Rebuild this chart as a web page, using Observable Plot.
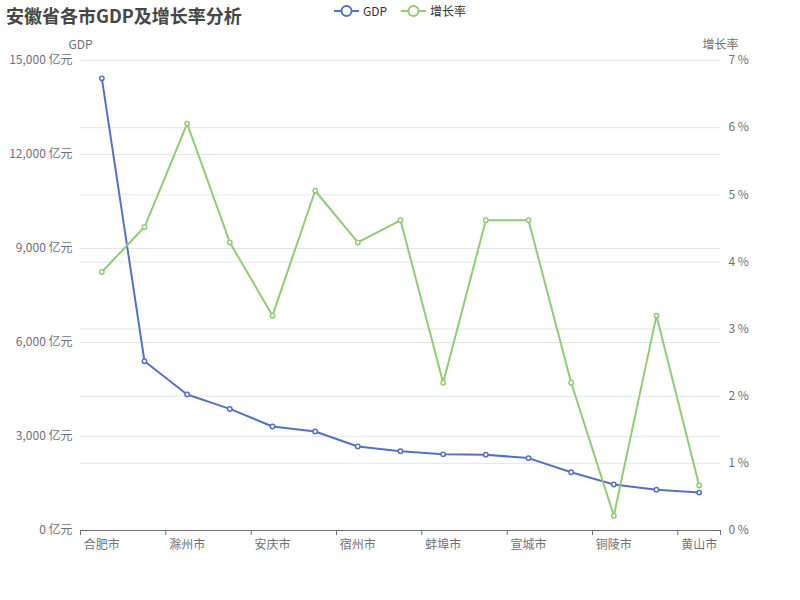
<!DOCTYPE html>
<html><head><meta charset="utf-8">
<script src="https://cdn.jsdelivr.net/npm/d3@7"></script>
<script src="https://cdn.jsdelivr.net/npm/@observablehq/plot@0.6"></script>
<style>
body{margin:0;background:#fff;font-family:"Noto Sans CJK SC","Noto Sans",sans-serif;}
#wrap{position:relative;width:800px;height:600px;overflow:hidden;}
#chart{position:absolute;left:0;top:0;}
#title{position:absolute;left:6px;top:3px;font-size:18px;font-weight:bold;color:#464646;line-height:24px;}
.leg{position:absolute;top:3px;font-size:12px;color:#333;display:flex;align-items:center;line-height:16px;}
.leg svg{margin-right:4px;}
</style></head><body>
<div id="wrap"><div id="chart"></div><div id="title">安徽省各市GDP及增长率分析</div><div id="legend"></div></div>
<script>
const cities = ["合肥市","芜湖市","滁州市","阜阳市","安庆市","马鞍山市","宿州市","六安市","蚌埠市","亳州市","宣城市","淮南市","铜陵市","池州市","黄山市"];
const gdp = [14430, 5400, 4340, 3880, 3320, 3160, 2680, 2530, 2430, 2420, 2310, 1860, 1470, 1300, 1210];
const growth = [3.85, 4.52, 6.06, 4.29, 3.2, 5.06, 4.29, 4.62, 2.2, 4.62, 4.62, 2.2, 0.22, 3.2, 0.67];
const gdpTicks = [0, 3000, 6000, 9000, 12000, 15000];
const growthTicks = [0, 1, 2, 3, 4, 5, 6, 7];
const seriesNames = ["GDP", "增长率"];
const seriesColors = ["#5470C6", "#91CC75"];

const GDP_MAX = 15000, G_MAX = 7;
const k = GDP_MAX / G_MAX;
const rows = cities.map((c, i) => ({city: c, gdp: gdp[i], g: growth[i] * k}));
const labeledCities = cities.filter((d, i) => i % 2 === 0);
const W = 800, H = 600, ML = 80, MR = 80, MT = 60, MB = 70;
const bw = (W - ML - MR) / cities.length;
const tickLen = 5 * GDP_MAX / (H - MT - MB);
const axisColor = "#6E7079", gridColor = "#E0E6F1";

const chart = Plot.plot({
  width: W, height: H,
  marginLeft: ML, marginRight: MR, marginTop: MT, marginBottom: MB,
  style: {fontFamily: '"Noto Sans CJK SC","Noto Sans",sans-serif', fontSize: "12px", background: "white"},
  x: {type: "band", domain: cities, padding: 0, round: false, axis: null},
  y: {domain: [0, GDP_MAX], axis: null},
  marks: [
    Plot.ruleY(gdpTicks.slice(1), {stroke: gridColor, strokeWidth: 1}),
    Plot.ruleY(growthTicks.slice(1).map(v => v * k), {stroke: gridColor, strokeWidth: 1}),
    Plot.axisY({ticks: gdpTicks, tickSize: 0, tickPadding: 8, tickFormat: d => d3.format(",")(d) + " 亿元", fill: axisColor, label: null}),
    Plot.axisY({anchor: "right", ticks: growthTicks.map(v => v * k), tickSize: 0, tickPadding: 8, tickFormat: d => Math.round(d / k) + " %", fill: axisColor, label: null}),
    Plot.axisX({ticks: labeledCities, tickSize: 0, tickPadding: 10, fill: axisColor, label: null}),
    Plot.ruleY([0], {stroke: axisColor, strokeWidth: 1}),
    Plot.ruleX(labeledCities, {x: d => d, y1: 0, y2: -tickLen, dx: -bw / 2, stroke: axisColor}),
    Plot.ruleX([cities[cities.length - 1]], {x: d => d, y1: 0, y2: -tickLen, dx: bw / 2, stroke: axisColor}),
    Plot.text([seriesNames[0]], {text: d => d, frameAnchor: "top-left", dy: -20, textAnchor: "middle", fill: axisColor}),
    Plot.text([seriesNames[1]], {text: d => d, frameAnchor: "top-right", dy: -20, textAnchor: "middle", fill: axisColor}),
    Plot.line(rows, {x: "city", y: "gdp", stroke: seriesColors[0], strokeWidth: 2}),
    Plot.dot(rows, {x: "city", y: "gdp", r: 2.2, stroke: seriesColors[0], fill: "white", strokeWidth: 1.5}),
    Plot.line(rows, {x: "city", y: "g", stroke: seriesColors[1], strokeWidth: 2}),
    Plot.dot(rows, {x: "city", y: "g", r: 2.2, stroke: seriesColors[1], fill: "white", strokeWidth: 1.5})
  ]
});
document.getElementById("chart").appendChild(chart);

const legendLeft = [334, 401];
const legend = document.getElementById("legend");
seriesNames.forEach((name, i) => {
  const div = document.createElement("div");
  div.className = "leg";
  div.style.left = legendLeft[i] + "px";
  div.innerHTML = `<svg width="25" height="14"><line x1="0" y1="7" x2="25" y2="7" stroke="${seriesColors[i]}" stroke-width="2"/><circle cx="12.5" cy="7" r="5" fill="white" stroke="${seriesColors[i]}" stroke-width="2"/></svg><span>${name}</span>`;
  legend.appendChild(div);
});
</script>
</body></html>
